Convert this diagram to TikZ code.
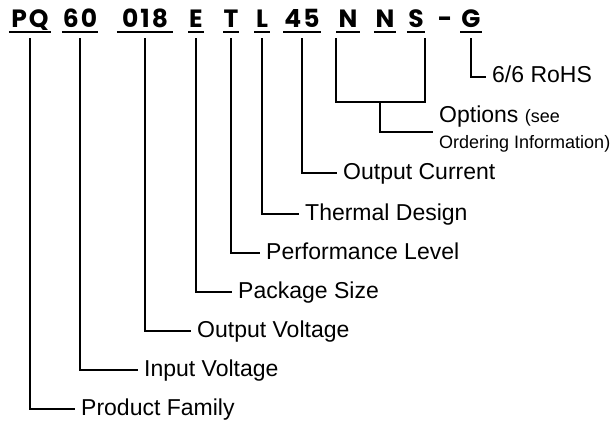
\documentclass[tikz,border=0pt]{standalone}
\usepackage{fontspec}
\setmainfont{Liberation Sans}
\newfontfamily\codefont[LetterSpace=8]{Poppins}
\newcommand\smalltxt{\fontsize{18}{22}\selectfont}

\begin{document}
\begin{tikzpicture}[x=1pt,y=-1pt]
  \tikzset{code/.style = {anchor=base, inner sep=0pt, text depth=0pt, font=\codefont\bfseries\fontsize{25}{28}\selectfont}}
  \tikzset{lbl/.style = {anchor=west, inner xsep=6pt, inner ysep=0pt, text height=17pt, text depth=5pt, font=\fontsize{23}{27}\selectfont}}
  \tikzset{conn/.style = {line width=2.3pt}}
  \tikzset{uline/.style = {line width=2pt}}
  \useasboundingbox (0,0) rectangle (615,422);

  % part number
  \node[code, minimum width=42pt] (pq) at (30,28) {PQ};
  \node[code, minimum width=36pt] (sixty) at (80,28) {60};
  \node[code, minimum width=56pt] (zot) at (145,28) {018};
  \node[code, minimum width=15pt] (e) at (196,28) {E};
  \node[code, minimum width=14pt] (t) at (231,28) {T};
  \node[code, minimum width=15pt] (l) at (262,28) {L};
  \node[code, minimum width=37pt] (ff) at (302,28) {45};
  \node[code, minimum width=23pt] (na) at (348,28) {N};
  \node[code, minimum width=22pt] (nb) at (385,28) {N};
  \node[code, minimum width=18pt] (s) at (416,28) {S};
  \node[code] (dash) at (445,28) {-};
  \node[code, minimum width=21pt] (g) at (471,28) {G};
  \foreach \c in {pq,sixty,zot,e,t,l,ff,na,nb,s,g}
    \draw[uline] ([yshift=-4pt]\c.south west) -- ([yshift=-4pt]\c.south east);

  % labels
  \node[lbl] (family) at (75,409) {Product Family};
  \node[lbl] (input) at (138,370) {Input Voltage};
  \node[lbl] (output) at (191,331) {Output Voltage};
  \node[lbl] (package) at (232,292) {Package Size};
  \node[lbl] (performance) at (260,253) {Performance Level};
  \node[lbl] (thermal) at (299,214) {Thermal Design};
  \node[lbl] (current) at (337,173) {Output Current};
  \node[lbl, anchor=base west] (options) at (433,123) {Options {\smalltxt(see}};
  \node[lbl, anchor=north west, text height=16pt, text depth=4pt, font=\smalltxt] (ordering) at (433,132) {Ordering Information)};
  \node[lbl] (rohs) at (486,77) {6/6 RoHS};

  % connectors
  \foreach \c/\l in {pq/family, sixty/input, zot/output, e/package, t/performance, l/thermal, ff/current, g/rohs}
    \draw[conn] ([yshift=-10pt]\c.south) |- (\l.west);
  \coordinate (optbar) at (380,102);
  \draw[conn] ([yshift=-10pt]na.south west) |- (optbar) -| ([yshift=-10pt]s.south east);
  \draw[conn] (optbar) |- (ordering.north west);
\end{tikzpicture}
\end{document}
